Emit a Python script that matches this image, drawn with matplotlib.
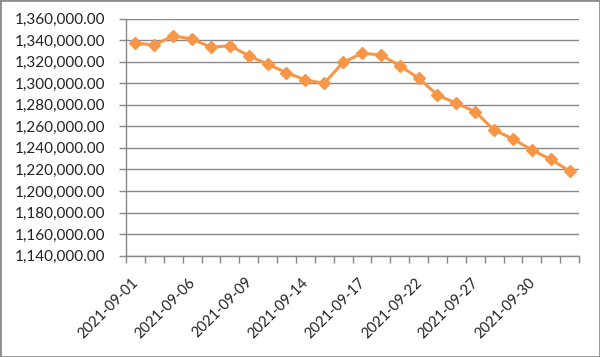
from matplotlib import patches, pyplot as plt
from matplotlib.ticker import FuncFormatter, FixedLocator
from matplotlib.transforms import ScaledTranslation

dates = ['2021-09-01', '2021-09-02', '2021-09-03', '2021-09-06', '2021-09-07', '2021-09-08',
         '2021-09-09', '2021-09-10', '2021-09-13', '2021-09-14', '2021-09-15', '2021-09-16',
         '2021-09-17', '2021-09-20', '2021-09-21', '2021-09-22', '2021-09-23', '2021-09-24',
         '2021-09-27', '2021-09-28', '2021-09-29', '2021-09-30', '2021-10-01', '2021-10-04']
values = [1337000, 1335500, 1343800, 1341000, 1333300, 1334800,
          1325500, 1317600, 1309800, 1303000, 1299900, 1319200,
          1327800, 1326200, 1316300, 1304600, 1289100, 1281400,
          1273600, 1256600, 1248300, 1238100, 1229400, 1218600]
y_min, y_max, y_step = 1140000, 1360000, 20000

plt.rcParams['font.family'] = ['Lato', 'DejaVu Sans']
grey = '#888888'

fig = plt.figure(figsize=(6, 3.57), dpi=100)
ax = fig.add_axes([126 / 600, 1 - 255.7 / 357, (579 - 126) / 600, (255.7 - 18.5) / 357])

x = list(range(len(dates)))
ax.plot(x, values, color='#F79646', linewidth=2.2, marker='D', markersize=6.5, zorder=3)

ax.set_xlim(-0.5, len(dates) - 0.5)
ax.set_ylim(y_min, y_max)
ax.set_yticks(range(y_min, y_max + 1, y_step))
ax.yaxis.set_major_formatter(FuncFormatter(lambda v, _: f'{v:,.2f}'))
ax.grid(axis='y', color=grey, linewidth=1, zorder=0)

# category labels every third day, tick marks between categories
ax.xaxis.set_major_locator(FixedLocator(x[::3]))
ax.set_xticklabels(dates[::3], rotation=45, ha='right', rotation_mode='default')
ax.xaxis.set_minor_locator(FixedLocator([i - 0.5 for i in range(len(dates) + 1)]))
ax.tick_params(axis='x', which='major', length=0, pad=14, labelsize=10.5, colors='#222222')
ax.tick_params(axis='x', which='minor', length=5, width=1, color=grey, direction='out')
ax.tick_params(axis='y', length=5, width=1, color=grey, pad=10, labelsize=11, labelcolor='#222222')
shift = ScaledTranslation(6 / 100, 0, fig.dpi_scale_trans)
for lbl in ax.get_xticklabels():
    lbl.set_transform(lbl.get_transform() + shift)

for side in ('top', 'right'):
    ax.spines[side].set_visible(False)
for side in ('left', 'bottom'):
    ax.spines[side].set_color(grey)
    ax.spines[side].set_linewidth(1)

fig.patches.append(patches.Rectangle((0, 0), 1, 1, transform=fig.transFigure,
                                     fill=False, edgecolor='#8c8c8c', linewidth=2))

plt.savefig('out.png', dpi=100)
